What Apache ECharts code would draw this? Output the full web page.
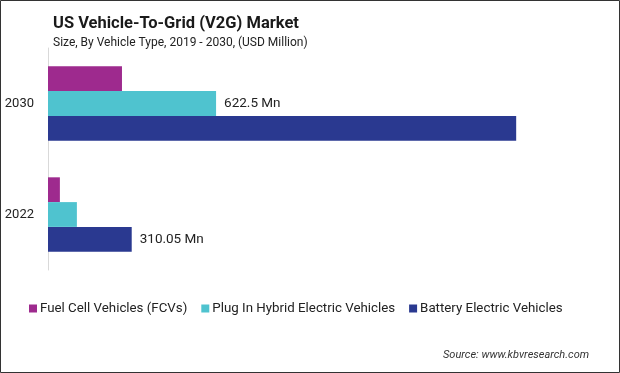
<!DOCTYPE html>
<html>
<head>
<meta charset="utf-8">
<script src="https://cdn.jsdelivr.net/npm/echarts@6/dist/echarts.min.js"></script>
<style>
html,body{margin:0;padding:0;background:#fff;}
#c{width:620px;height:373px;}
</style>
</head>
<body>
<div id="c"></div>
<script>
const years = ['2022', '2030'];
const seriesNames = ['Fuel Cell Vehicles (FCVs)', 'Plug In Hybrid Electric Vehicles', 'Battery Electric Vehicles'];
const fuelCell = [44, 274];
const plugIn = [107, 622.5];
const battery = [310.05, 1734];
const labelTexts = { 'Plug In Hybrid Electric Vehicles': [null, '622.5 Mn'], 'Battery Electric Vehicles': ['310.05 Mn', null] };
const colors = { 'Fuel Cell Vehicles (FCVs)': '#9E2A8E', 'Plug In Hybrid Electric Vehicles': '#4FC3CF', 'Battery Electric Vehicles': '#2A3990' };
const valuesByName = { 'Fuel Cell Vehicles (FCVs)': fuelCell, 'Plug In Hybrid Electric Vehicles': plugIn, 'Battery Electric Vehicles': battery };

const FONT = 'Roboto, "Noto Sans", sans-serif';
const chart = echarts.init(document.getElementById('c'), null, { renderer: 'canvas' });

const series = seriesNames.map(name => ({
  name: name,
  type: 'bar',
  barGap: '0%',
  barCategoryGap: '33%',
  itemStyle: { color: colors[name] },
  data: valuesByName[name].map((v, i) => {
    const t = labelTexts[name] ? labelTexts[name][i] : null;
    return t ? { value: v, label: { show: true, position: 'right', distance: 8, formatter: t, color: '#222', fontSize: 13.5, fontFamily: FONT } } : { value: v };
  }),
  emphasis: { disabled: true }
}));

chart.setOption({
  animation: false,
  backgroundColor: '#fff',
  title: [
    { text: 'US Vehicle-To-Grid (V2G) Market', left: 48, top: 10, textStyle: { fontFamily: FONT, fontSize: 16.5, fontWeight: 'bold', color: '#1a1a1a' } },
    { text: 'Size, By Vehicle Type, 2019 - 2030, (USD Million)', left: 48, top: 32, textStyle: { fontFamily: FONT, fontSize: 12, fontWeight: 'normal', color: '#222' } },
    { text: 'Source: www.kbvresearch.com', left: 438, top: 345, textStyle: { fontFamily: FONT, fontSize: 11, fontStyle: 'italic', fontWeight: 'normal', color: '#333' } }
  ],
  legend: {
    data: seriesNames,
    left: 24, top: 297,
    icon: 'rect', itemWidth: 8, itemHeight: 8, itemGap: 14,
    textStyle: { fontFamily: FONT, fontSize: 13.3, color: '#222', padding: [0, 0, 0, -2] },
    selectedMode: false
  },
  grid: { left: 48, top: 48, height: 222, width: 540 },
  xAxis: { type: 'value', min: 0, max: 2000, show: false },
  yAxis: {
    type: 'category', data: years,
    axisLine: { show: true, lineStyle: { color: '#d9d9d9', width: 1 } },
    axisTick: { show: false },
    axisLabel: { fontFamily: FONT, fontSize: 13, color: '#222', margin: 14 }
  },
  series: series,
  graphic: [{ type: 'rect', shape: { x: 0.5, y: 0.5, width: 619, height: 372 }, style: { fill: null, stroke: '#333', lineWidth: 1 }, silent: true }]
});
</script>
</body>
</html>
